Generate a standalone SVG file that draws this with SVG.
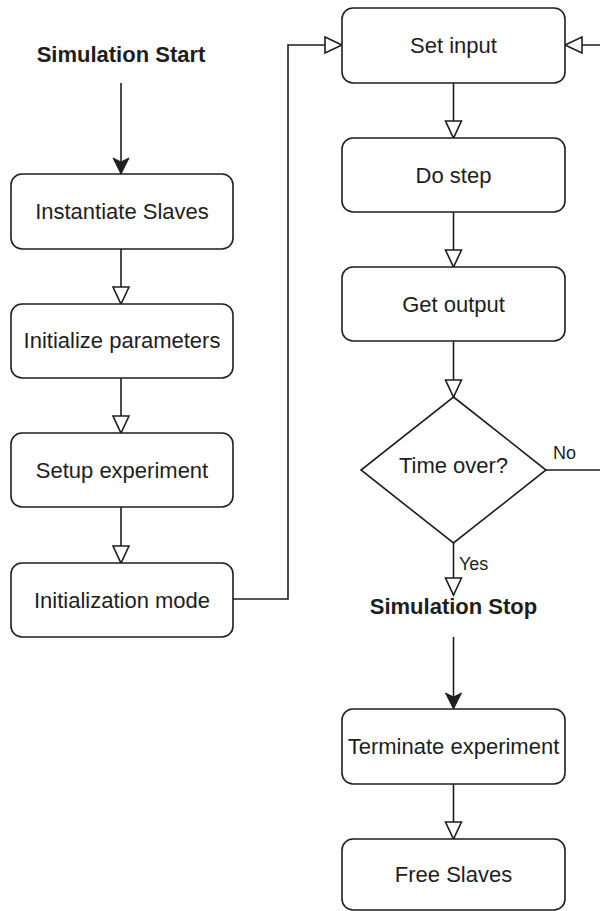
<svg xmlns="http://www.w3.org/2000/svg" width="600" height="911" viewBox="0 0 600 911">
<style>
.box{fill:#fff;stroke:#1e1e1e;stroke-width:1.6}
.t{font-family:"Liberation Sans",Arial,sans-serif;font-size:22px;fill:#1e1e1e;text-anchor:middle}
.b{font-weight:bold}
.lbl{font-family:"Liberation Sans",Arial,sans-serif;font-size:18px;fill:#1e1e1e}
.c{fill:none;stroke:#1e1e1e;stroke-width:1.6}
.h{marker-end:url(#hollow)}
.f{marker-end:url(#filled)}
</style>
<defs>
<marker id="hollow" viewBox="-2 -10 21 20" markerWidth="21" markerHeight="20" refX="17" refY="0" orient="auto" markerUnits="userSpaceOnUse">
<path d="M0,-8 L17,0 L0,8 Z" fill="#fff" stroke="#1e1e1e" stroke-width="1.6"/>
</marker>
<marker id="filled" viewBox="-1 -9 18 18" markerWidth="18" markerHeight="18" refX="16" refY="0" orient="auto" markerUnits="userSpaceOnUse">
<path d="M0,-8 L16,0 L0,8 L4,0 Z" fill="#1e1e1e" stroke="#1e1e1e" stroke-width="1"/>
</marker>
</defs>
<g id="connectors">
<path class="c f" d="M121,83 V174"/>
<path class="c h" d="M121,249 V304"/>
<path class="c h" d="M121,378 V433"/>
<path class="c h" d="M121,507 V563"/>
<path class="c h" d="M233,599 H288 V45 H342"/>
<path class="c h" d="M453.5,83 V138"/>
<path class="c h" d="M453.5,212 V267"/>
<path class="c h" d="M453.5,341 V397"/>
<path class="c h" d="M453.5,543 V595"/>
<path class="c f" d="M453.5,637 V709"/>
<path class="c h" d="M453.5,784 V839"/>
<path class="c h" d="M546,470 H604 V45 H565"/>
<text class="lbl" x="553" y="459">No</text>
<text class="lbl" x="459" y="570">Yes</text>
</g>
<g id="sim-start"><text class="t b" x="121" y="62">Simulation Start</text></g>
<g id="instantiate"><rect class="box" x="11" y="174" width="222" height="75" rx="11"/><text class="t" x="122" y="218.5">Instantiate Slaves</text></g>
<g id="init-params"><rect class="box" x="11" y="304" width="222" height="74" rx="11"/><text class="t" x="122" y="348">Initialize parameters</text></g>
<g id="setup"><rect class="box" x="11" y="433" width="222" height="74" rx="11"/><text class="t" x="122" y="477.5">Setup experiment</text></g>
<g id="init-mode"><rect class="box" x="11" y="563" width="222" height="74" rx="11"/><text class="t" x="122" y="607.5">Initialization mode</text></g>
<g id="set-input"><rect class="box" x="342" y="8" width="223" height="75" rx="11"/><text class="t" x="453.5" y="53">Set input</text></g>
<g id="do-step"><rect class="box" x="342" y="138" width="223" height="74" rx="11"/><text class="t" x="453.5" y="182.5">Do step</text></g>
<g id="get-output"><rect class="box" x="342" y="267" width="223" height="74" rx="11"/><text class="t" x="453.5" y="311.5">Get output</text></g>
<g id="time-over"><path class="box" d="M453.5,397 L546,470 L453.5,543 L361,470 Z"/><text class="t" x="453.5" y="473">Time over?</text></g>
<g id="sim-stop"><text class="t b" x="453.5" y="614">Simulation Stop</text></g>
<g id="terminate"><rect class="box" x="342" y="709" width="223" height="75" rx="11"/><text class="t" x="453.5" y="754">Terminate experiment</text></g>
<g id="free-slaves"><rect class="box" x="342" y="839" width="223" height="71" rx="11"/><text class="t" x="453.5" y="882">Free Slaves</text></g>
</svg>
